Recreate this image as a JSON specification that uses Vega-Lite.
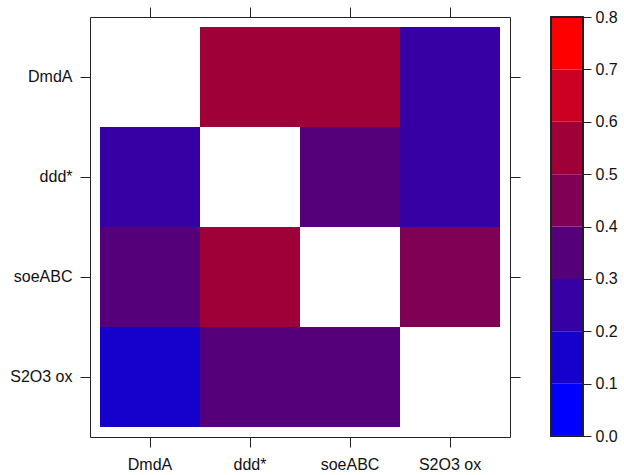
{
  "$schema": "https://vega.github.io/schema/vega-lite/v6.json",
  "padding": {"left": 4, "top": 5, "right": 5, "bottom": 5},
  "background": "white",
  "config": {
    "font": "Liberation Sans",
    "view": {"stroke": "#222", "strokeWidth": 1},
    "axis": {"labelFont": "Liberation Sans", "labelFontSize": 16, "labelColor": "#111", "tickColor": "#222", "tickSize": 10, "domain": false, "grid": false, "title": null}
  },
  "hconcat": [
    {
      "width": 420,
      "height": 420,
      "data": {"values": [
        {"row": "DmdA", "col": "ddd*", "value": 0.55},
        {"row": "DmdA", "col": "soeABC", "value": 0.55},
        {"row": "DmdA", "col": "S2O3 ox", "value": 0.25},
        {"row": "ddd*", "col": "DmdA", "value": 0.25},
        {"row": "ddd*", "col": "soeABC", "value": 0.35},
        {"row": "ddd*", "col": "S2O3 ox", "value": 0.25},
        {"row": "soeABC", "col": "DmdA", "value": 0.35},
        {"row": "soeABC", "col": "ddd*", "value": 0.55},
        {"row": "soeABC", "col": "S2O3 ox", "value": 0.45},
        {"row": "S2O3 ox", "col": "DmdA", "value": 0.15},
        {"row": "S2O3 ox", "col": "ddd*", "value": 0.35},
        {"row": "S2O3 ox", "col": "soeABC", "value": 0.35}
      ]},
      "layer": [
        {
          "mark": {"type": "rect", "strokeWidth": 0},
          "encoding": {
            "x": {"field": "col", "type": "nominal", "sort": ["DmdA", "ddd*", "soeABC", "S2O3 ox"],
              "scale": {"domain": ["DmdA", "ddd*", "soeABC", "S2O3 ox"], "paddingInner": 0, "paddingOuter": 0.1},
              "axis": {"orient": "bottom", "labelAngle": 0, "labelPadding": 9}},
            "y": {"field": "row", "type": "nominal", "sort": ["DmdA", "ddd*", "soeABC", "S2O3 ox"],
              "scale": {"domain": ["DmdA", "ddd*", "soeABC", "S2O3 ox"], "paddingInner": 0, "paddingOuter": 0.1},
              "axis": {"orient": "left", "labelPadding": 8, "minExtent": 85, "maxExtent": 85}},
            "color": {"field": "value", "type": "quantitative",
              "scale": {"type": "threshold", "domain": [0.1, 0.2, 0.3, 0.4, 0.5, 0.6, 0.7],
                "range": ["#0000FF", "#1500CC", "#3700A5", "#55007A", "#7F0055", "#A00038", "#CC0022", "#FF0000"]},
              "legend": null}
          }
        },
        {
          "mark": {"type": "rect", "opacity": 0},
          "encoding": {
            "x": {"field": "col", "type": "nominal", "sort": ["DmdA", "ddd*", "soeABC", "S2O3 ox"],
              "axis": {"orient": "top", "labels": false, "minExtent": 11, "maxExtent": 11}},
            "y": {"field": "row", "type": "nominal", "sort": ["DmdA", "ddd*", "soeABC", "S2O3 ox"],
              "axis": {"orient": "right", "labels": false, "minExtent": 10, "maxExtent": 10}}
          }
        }
      ],
      "resolve": {"axis": {"x": "independent", "y": "independent"}}
    },
    {
      "width": 32,
      "height": 419,
      "data": {"values": [
        {"lo": 0.0, "hi": 0.1, "mid": 0.05},
        {"lo": 0.1, "hi": 0.2, "mid": 0.15},
        {"lo": 0.2, "hi": 0.3, "mid": 0.25},
        {"lo": 0.3, "hi": 0.4, "mid": 0.35},
        {"lo": 0.4, "hi": 0.5, "mid": 0.45},
        {"lo": 0.5, "hi": 0.6, "mid": 0.55},
        {"lo": 0.6, "hi": 0.7, "mid": 0.65},
        {"lo": 0.7, "hi": 0.8, "mid": 0.75}
      ]},
      "layer": [
        {
          "mark": {"type": "rect", "strokeWidth": 0},
          "encoding": {
            "x": {"datum": 0, "type": "quantitative", "scale": {"domain": [0, 1], "nice": false},
              "axis": {"orient": "top", "labels": false, "ticks": false, "minExtent": 11, "maxExtent": 11}},
            "x2": {"datum": 1},
            "y": {"field": "lo", "type": "quantitative", "scale": {"domain": [0, 0.8], "nice": false, "zero": false},
              "axis": {"orient": "right", "values": [0, 0.1, 0.2, 0.3, 0.4, 0.5, 0.6, 0.7, 0.8], "format": ".1f", "labelPadding": 4, "tickSize": 8}},
            "y2": {"field": "hi"},
            "color": {"field": "mid", "type": "quantitative",
              "scale": {"type": "threshold", "domain": [0.1, 0.2, 0.3, 0.4, 0.5, 0.6, 0.7],
                "range": ["#0000FF", "#1500CC", "#3700A5", "#55007A", "#7F0055", "#A00038", "#CC0022", "#FF0000"]},
              "legend": null}
          }
        },
        {
          "mark": {"type": "rect", "filled": false, "stroke": "#222", "strokeWidth": 1.2},
          "encoding": {
            "x": {"datum": 0, "type": "quantitative"},
            "x2": {"datum": 1},
            "y": {"datum": 0, "type": "quantitative"},
            "y2": {"datum": 0.8}
          }
        }
      ]
    }
  ],
  "spacing": 28,
  "resolve": {"scale": {"color": "independent"}}
}
